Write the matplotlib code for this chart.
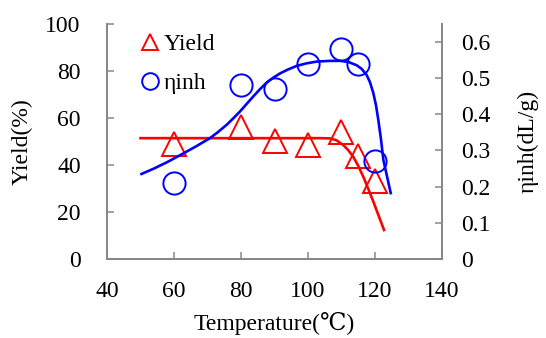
import matplotlib
matplotlib.use("Agg")
import matplotlib.pyplot as plt
from matplotlib.lines import Line2D

plt.rcParams['font.family'] = ['Liberation Serif', 'DejaVu Serif', 'DejaVu Sans']

# Measured data
temp_pts = [60, 80, 90, 100, 110, 115, 120]
yield_pts = [49, 56, 50, 48.5, 54, 44, 33]
inh_pts = [0.21, 0.48, 0.47, 0.54, 0.58, 0.54, 0.27]

# Fitted curves
yield_curve_t = [50, 60, 70, 80, 90, 100, 104, 106.6, 108.5, 110.5, 112, 113.5, 115, 116.5, 118, 119.5, 121, 122.7]
yield_curve_v = [51.4, 51.4, 51.4, 51.4, 51.4, 51.4, 51.4, 51.3, 50.5, 48.5, 46.3, 43.5, 39.6, 35, 29.8, 24.4, 18.7, 12.3]

inh_curve_t = [50.3, 54, 58, 62.8, 66.5, 70.7, 73, 75.7, 77.7, 79.7, 81.7, 83.7, 85.7, 87.7, 89.7, 91.6, 94, 96.6, 99.5, 102.6, 106.6, 109.6, 112, 114.5, 116, 117.5, 118.5, 119.5, 120.3, 121, 121.8, 122.5, 123.6, 124.7]
inh_curve_v = [0.235, 0.250, 0.268, 0.292, 0.311, 0.334, 0.350, 0.371, 0.389, 0.408, 0.429, 0.450, 0.470, 0.488, 0.502, 0.513, 0.524, 0.534, 0.541, 0.546, 0.548, 0.548, 0.545, 0.536, 0.526, 0.509, 0.489, 0.459, 0.425, 0.384, 0.33, 0.274, 0.228, 0.182]

x_ticks = [40, 60, 80, 100, 120, 140]
y1_ticks = [0, 20, 40, 60, 80, 100]
y2_ticks = [0, 0.1, 0.2, 0.3, 0.4, 0.5, 0.6]
y2_labels = ['0', '0.1', '0.2', '0.3', '0.4', '0.5', '0.6']

RED = '#ff0000'
BLUE = '#0000ff'
GRAY = '#878787'
FS = 17

fig = plt.figure(figsize=(5.46, 3.38), dpi=100)
ax = fig.add_axes([0.196, 0.234, 0.6135, 0.695])
ax2 = ax.twinx()

ax.plot(yield_curve_t, yield_curve_v, color=RED, lw=1.9, zorder=2)
ax.plot(temp_pts, yield_pts, linestyle='none', marker='^', markersize=17,
        markerfacecolor='none', markeredgecolor=RED, markeredgewidth=1.4, zorder=3)

ax2.plot(inh_curve_t, inh_curve_v, color=BLUE, lw=1.9, zorder=2)
ax2.plot(temp_pts, inh_pts, linestyle='none', marker='o', markersize=16,
         markerfacecolor='none', markeredgecolor=BLUE, markeredgewidth=1.4, zorder=3)

ax.set_xlim(40, 140)
ax.set_ylim(0, 100)
ax2.set_ylim(0, 0.65)
ax.set_xticks(x_ticks)
ax.set_yticks(y1_ticks)
ax2.set_yticks(y2_ticks)
ax2.set_yticklabels(y2_labels)

for a in (ax, ax2):
    a.spines['top'].set_visible(False)
    for s in ('left', 'right', 'bottom'):
        a.spines[s].set_color(GRAY)
        a.spines[s].set_linewidth(1.3)
    a.tick_params(direction='in', length=5, width=1.1, color=GRAY, labelsize=FS, labelcolor='black')

ax.tick_params(axis='y', pad=19)
ax.tick_params(axis='x', pad=16)
ax2.tick_params(axis='y', pad=14)

ax.set_xlabel('Temperature(℃)', fontsize=FS, labelpad=7)
ax.set_ylabel('Yield(%)', fontsize=FS, labelpad=9)
ax2.set_ylabel('ηinh(dL/g)', fontsize=FS, labelpad=19)

handles = [
    Line2D([], [], linestyle='none', marker='^', markersize=12, markerfacecolor='none',
           markeredgecolor=RED, markeredgewidth=1.4),
    Line2D([], [], linestyle='none', marker='o', markersize=12, markerfacecolor='none',
           markeredgecolor=BLUE, markeredgewidth=1.4),
]
leg = ax.legend(handles, ['Yield', 'ηinh'], loc='upper left', bbox_to_anchor=(0.05, 1.03),
                frameon=False, fontsize=FS, handlelength=0.8, handletextpad=0.2,
                labelspacing=0.75, borderaxespad=0.3)

fig.savefig('out.png', dpi=100)
